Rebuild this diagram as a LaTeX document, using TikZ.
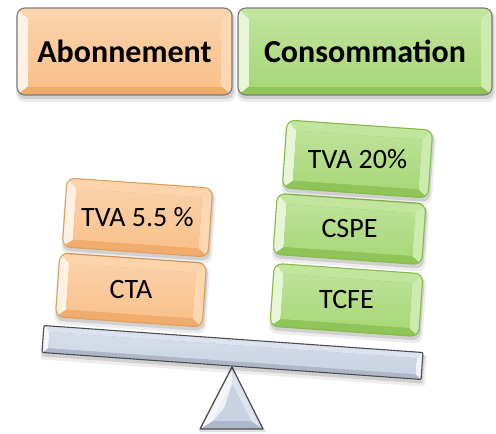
\documentclass[tikz,border=0pt]{standalone}
\usepackage{fontspec}
\setmainfont{Carlito}
\definecolor{oface}{HTML}{F9C18C}
\definecolor{otop}{HTML}{FCD4AC}
\definecolor{obot}{HTML}{EFAC6C}
\definecolor{olft}{HTML}{FFF2E4}
\definecolor{orgt}{HTML}{FCD8B2}
\definecolor{oline}{HTML}{E09E5C}
\definecolor{gface}{HTML}{A8D878}
\definecolor{gtop}{HTML}{C2E59E}
\definecolor{gbot}{HTML}{8FC458}
\definecolor{glft}{HTML}{E8F6D8}
\definecolor{grgt}{HTML}{CDEBAF}
\definecolor{gline}{HTML}{86BC4A}
\definecolor{sface}{HTML}{C9D2E3}
\definecolor{stop}{HTML}{DDE3EE}
\definecolor{sbot}{HTML}{ADB7CA}
\definecolor{slft}{HTML}{F4F6FA}
\definecolor{srgt}{HTML}{EEF1F7}
\definecolor{sline}{HTML}{4D4D4D}
\definecolor{tline}{HTML}{7A7A7A}
\newcommand\bv{10}
\newcommand\rc{8}
% #1 name #2 centre #3 w #4 h #5 angle #6 scheme #7 border #8 font #9 text
\newcommand\bvbox[9]{%
\begin{scope}[shift={#2},rotate=#5]
 \pgfmathsetmacro\hw{#3/2}\pgfmathsetmacro\hh{#4/2}
 \fill[black,opacity=0.07,rounded corners=\rc] (-\hw-1,-\hh+3) rectangle (\hw+4,\hh+7);
 \fill[black,opacity=0.12,rounded corners=\rc] (-\hw,-\hh+2) rectangle (\hw+2,\hh+4);
 \begin{scope}
  \clip[rounded corners=\rc] (-\hw,-\hh) rectangle (\hw,\hh);
  \fill[#6bot] (-\hw,-\hh) rectangle (\hw,\hh);
  \fill[#6top] (-\hw,-\hh) -- (\hw,-\hh) -- (\hw-\bv,-\hh+\bv) -- (-\hw+\bv,-\hh+\bv) -- cycle;
  \fill[#6lft] (-\hw,-\hh) -- (-\hw+\bv,-\hh+\bv) -- (-\hw+\bv,\hh-0.8*\bv) -- (-\hw,\hh) -- cycle;
  \fill[#6rgt] (\hw,-\hh) -- (\hw-\bv,-\hh+\bv) -- (\hw-\bv,\hh-0.8*\bv) -- (\hw,\hh) -- cycle;
  \shade[top color=#6face!75!white, bottom color=#6face] (-\hw+\bv,-\hh+\bv) rectangle (\hw-\bv,\hh-0.8*\bv);
 \end{scope}
 \draw[#7,line width=1.1pt,rounded corners=\rc] (-\hw,-\hh) rectangle (\hw,\hh);
 \node[font=#8, inner sep=0pt] (#1) at (0,0) {#9};
\end{scope}}
\begin{document}
\begin{tikzpicture}[x=1pt,y=-1pt]
\useasboundingbox (0,0) rectangle (496,434);
% top boxes
\renewcommand\bv{11}
\bvbox{abo}{(124.5,51.5)}{215}{87}{0}{o}{tline}{\fontsize{32}{36}\bfseries\selectfont}{Abonnement}
\bvbox{cons}{(365,51.5)}{254}{87}{0}{g}{tline}{\fontsize{32}{36}\bfseries\selectfont}{Consommation}
% triangle
\coordinate (ap) at (232,367);
\coordinate (bl) at (200,429);
\coordinate (br) at (263,429);
\coordinate (iap) at (232,384);
\coordinate (ibl) at (213,421);
\coordinate (ibr) at (251,421);
\fill[black,opacity=0.12] (233,370) -- (266,432) -- (199,432) -- cycle;
\fill[sbot] (ap) -- (bl) -- (br) -- cycle;
\fill[slft] (ap) -- (bl) -- (ibl) -- (iap) -- cycle;
\fill[stop] (ap) -- (iap) -- (ibr) -- (br) -- cycle;
\fill[sface] (iap) -- (ibl) -- (ibr) -- cycle;
\fill[white,opacity=0.7] (iap) -- (ibl) -- (224,408) -- cycle;
\draw[sline,line width=1.3pt,line join=round] (ap) -- (bl) -- (br) -- cycle;
% beam
\renewcommand\bv{6}\renewcommand\rc{1}
\bvbox{beam}{(232.5,352.5)}{380}{27}{-4.07}{s}{sline}{\normalsize}{}
% tiles
\renewcommand\bv{10}\renewcommand\rc{8}
\bvbox{tcfe}{(346.5,300)}{149}{63}{-4}{g}{gline}{\fontsize{28}{32}\selectfont}{TCFE}
\bvbox{cspe}{(349.5,229)}{149}{61}{-4}{g}{gline}{\fontsize{28}{32}\selectfont}{CSPE}
\bvbox{tva20}{(357.5,159)}{146}{68}{-4}{g}{gline}{\fontsize{28}{32}\selectfont}{TVA 20\%}
\bvbox{cta}{(131,290)}{147}{64}{-4}{o}{oline}{\fontsize{28}{32}\selectfont}{CTA}
\bvbox{tva55}{(137.5,217.5)}{146}{69}{-4}{o}{oline}{\fontsize{28}{32}\selectfont}{TVA 5.5 \%}
\end{tikzpicture}
\end{document}
